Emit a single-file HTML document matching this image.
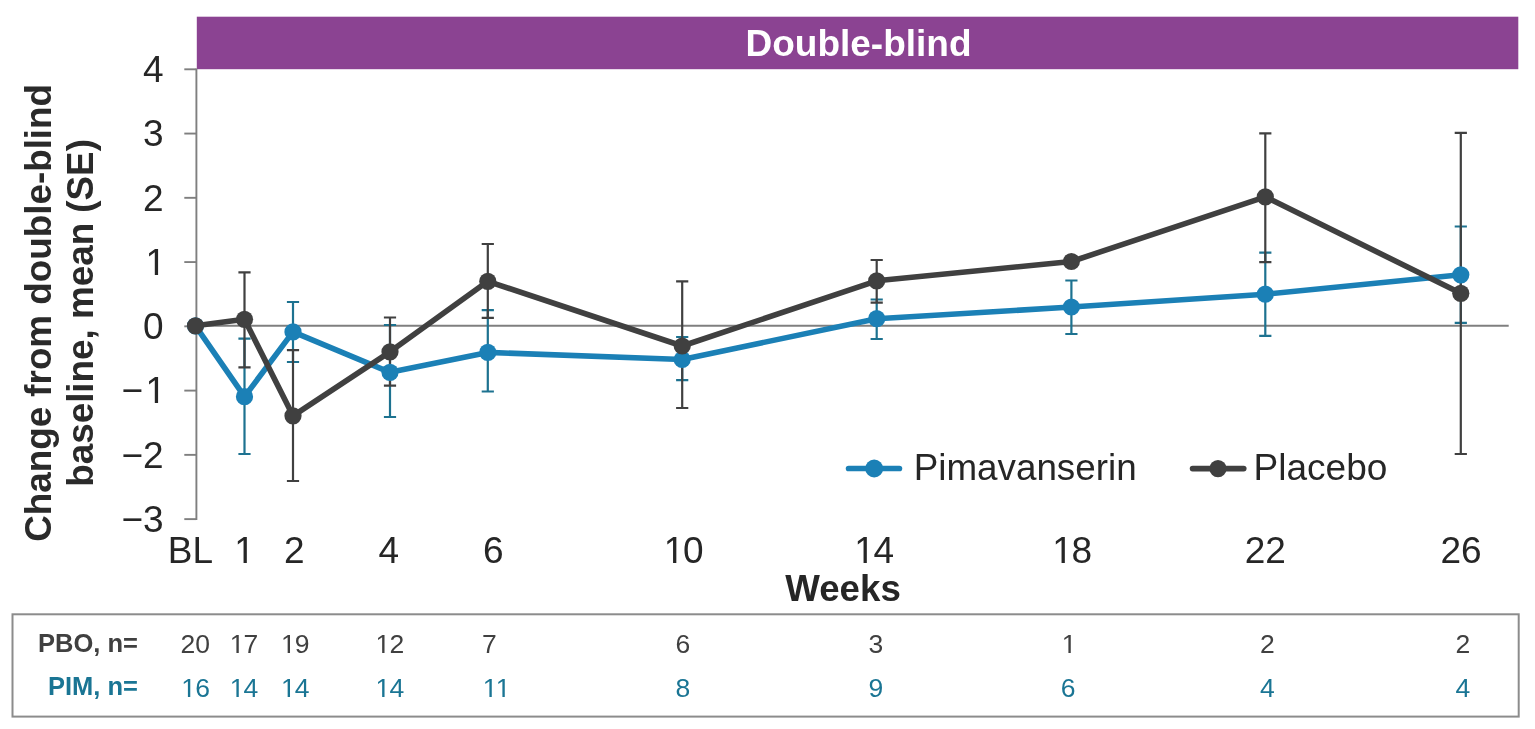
<!DOCTYPE html>
<html><head><meta charset="utf-8"><title>Double-blind chart</title>
<style>
html,body{margin:0;padding:0;background:#fff;}
body{width:1535px;height:729px;overflow:hidden;}
svg{display:block;font-family:"Liberation Sans",Arial,sans-serif;}
</style></head><body>
<svg width="1535" height="729" viewBox="0 0 1535 729">
<rect x="196.8" y="16.7" width="1321.5" height="52.5" fill="#8B4392"/>
<text x="858.5" y="56" text-anchor="middle" fill="#fff" font-weight="bold" font-size="37">Double-blind</text>
<g stroke="#7F7F7F" stroke-width="1.9" fill="none">
<path d="M196.4 68.4V520"/>
<path d="M184.3 69.30H196.4" /><path d="M184.3 133.56H196.4" /><path d="M184.3 197.82H196.4" /><path d="M184.3 262.08H196.4" /><path d="M184.3 326.34H196.4" /><path d="M184.3 390.60H196.4" /><path d="M184.3 454.86H196.4" /><path d="M184.3 519.12H196.4" />
<path d="M196.4 325.8H1508.7" stroke-width="2"/>
</g>
<g fill="#262626" font-size="37"><text x="143.00" y="82">4</text><text x="143.00" y="146">3</text><text x="143.00" y="211">2</text><text x="145.50" y="275">1</text><text x="143.00" y="339">0</text><text x="121.50 145.50" y="403">−1</text><text x="121.50 143.00" y="468">−2</text><text x="121.50 143.00" y="532">−3</text></g>
<g fill="#262626" font-size="37"><text x="190.5" y="563" text-anchor="middle">BL</text><text x="234.25" y="563">1</text><text x="284.00" y="563">2</text><text x="378.50" y="563">4</text><text x="483.00" y="563">6</text><text x="663.75 683.00" y="563">10</text><text x="854.25 873.50" y="563">14</text><text x="1052.25 1071.50" y="563">18</text><text x="1244.75 1265.25" y="563">22</text><text x="1440.50 1461.00" y="563">26</text></g>
<text x="843" y="600.8" text-anchor="middle" fill="#262626" font-size="36.7" font-weight="bold">Weeks</text>
<g fill="#2A2A2A" font-size="36.8" font-weight="bold" transform="translate(0,312.9) rotate(-90)">
<text x="0" y="51" text-anchor="middle">Change from double-blind</text>
<text x="0" y="93.2" text-anchor="middle">baseline, mean (SE)</text>
</g>
<path d="M244.5 338.6V454M238.40 338.6H250.60M238.40 454H250.60" stroke="#1D7290" stroke-width="2.2" fill="none"/>
<path d="M293 302V362M286.90 302H299.10M286.90 362H299.10" stroke="#1D7290" stroke-width="2.2" fill="none"/>
<path d="M390 325V417M383.90 325H396.10M383.90 417H396.10" stroke="#1D7290" stroke-width="2.2" fill="none"/>
<path d="M487.8 310.1V391.5M481.70 310.1H493.90M481.70 391.5H493.90" stroke="#1D7290" stroke-width="2.2" fill="none"/>
<path d="M682.2 337V380.2M676.10 337H688.30M676.10 380.2H688.30" stroke="#1D7290" stroke-width="2.2" fill="none"/>
<path d="M876.7 299.5V339M870.60 299.5H882.80M870.60 339H882.80" stroke="#1D7290" stroke-width="2.2" fill="none"/>
<path d="M1071.4 280.5V334M1065.30 280.5H1077.50M1065.30 334H1077.50" stroke="#1D7290" stroke-width="2.2" fill="none"/>
<path d="M1265.3 252.7V335.9M1259.20 252.7H1271.40M1259.20 335.9H1271.40" stroke="#1D7290" stroke-width="2.2" fill="none"/>
<path d="M1460.8 226.5V322.8M1454.70 226.5H1466.90M1454.70 322.8H1466.90" stroke="#1D7290" stroke-width="2.2" fill="none"/>
<path d="M244.5 272.3V367.3M238.40 272.3H250.60M238.40 367.3H250.60" stroke="#404040" stroke-width="2.2" fill="none"/>
<path d="M293 350.2V481M286.90 350.2H299.10M286.90 481H299.10" stroke="#404040" stroke-width="2.2" fill="none"/>
<path d="M390 317.5V385.7M383.90 317.5H396.10M383.90 385.7H396.10" stroke="#404040" stroke-width="2.2" fill="none"/>
<path d="M487.8 244V317.8M481.70 244H493.90M481.70 317.8H493.90" stroke="#404040" stroke-width="2.2" fill="none"/>
<path d="M682.2 281.3V408M676.10 281.3H688.30M676.10 408H688.30" stroke="#404040" stroke-width="2.2" fill="none"/>
<path d="M876.7 260V302.7M870.60 260H882.80M870.60 302.7H882.80" stroke="#404040" stroke-width="2.2" fill="none"/>
<path d="M1265.3 133.3V262.2M1259.20 133.3H1271.40M1259.20 262.2H1271.40" stroke="#404040" stroke-width="2.2" fill="none"/>
<path d="M1460.8 132.9V454M1454.70 132.9H1466.90M1454.70 454H1466.90" stroke="#404040" stroke-width="2.2" fill="none"/>
<polyline points="195.5,325.8 244.5,396.7 293,331.9 390,372.3 487.8,352.4 682.2,359.5 876.7,318.7 1071.4,307 1265.3,294.2 1460.8,274.8" fill="none" stroke="#1B80B6" stroke-width="5.6" stroke-linejoin="round" stroke-linecap="round"/>
<circle cx="195.5" cy="325.8" r="8.6" fill="#1B80B6"/><circle cx="244.5" cy="396.7" r="8.6" fill="#1B80B6"/><circle cx="293" cy="331.9" r="8.6" fill="#1B80B6"/><circle cx="390" cy="372.3" r="8.6" fill="#1B80B6"/><circle cx="487.8" cy="352.4" r="8.6" fill="#1B80B6"/><circle cx="682.2" cy="359.5" r="8.6" fill="#1B80B6"/><circle cx="876.7" cy="318.7" r="8.6" fill="#1B80B6"/><circle cx="1071.4" cy="307" r="8.6" fill="#1B80B6"/><circle cx="1265.3" cy="294.2" r="8.6" fill="#1B80B6"/><circle cx="1460.8" cy="274.8" r="8.6" fill="#1B80B6"/>
<polyline points="195.5,325.8 244.5,319.3 293,415.8 390,351.8 487.8,281.3 682.2,346 876.7,280.8 1071.4,261.5 1265.3,196.8 1460.8,293.3" fill="none" stroke="#404040" stroke-width="5.6" stroke-linejoin="round" stroke-linecap="round"/>
<circle cx="195.5" cy="325.8" r="8.6" fill="#404040"/><circle cx="244.5" cy="319.3" r="8.6" fill="#404040"/><circle cx="293" cy="415.8" r="8.6" fill="#404040"/><circle cx="390" cy="351.8" r="8.6" fill="#404040"/><circle cx="487.8" cy="281.3" r="8.6" fill="#404040"/><circle cx="682.2" cy="346" r="8.6" fill="#404040"/><circle cx="876.7" cy="280.8" r="8.6" fill="#404040"/><circle cx="1071.4" cy="261.5" r="8.6" fill="#404040"/><circle cx="1265.3" cy="196.8" r="8.6" fill="#404040"/><circle cx="1460.8" cy="293.3" r="8.6" fill="#404040"/>
<path d="M848.6 468.5H899.4" stroke="#1B80B6" stroke-width="5.7" stroke-linecap="round"/>
<circle cx="874.2" cy="468.5" r="9" fill="#1B80B6"/>
<text x="913.7" y="480" fill="#262626" font-size="36.8">Pimavanserin</text>
<path d="M1192.6 468.6H1243.7" stroke="#404040" stroke-width="5.7" stroke-linecap="round"/>
<circle cx="1218" cy="468.6" r="8.6" fill="#404040"/>
<text x="1253.6" y="479.5" fill="#262626" font-size="37">Placebo</text>
<rect x="12.5" y="614.3" width="1506.2" height="102.3" fill="none" stroke="#8C8C8C" stroke-width="2"/>
<text x="138" y="652" text-anchor="end" fill="#404040" font-size="25.5" font-weight="bold">PBO, n=</text>
<text x="138" y="695.1" text-anchor="end" fill="#1A7594" font-size="25.5" font-weight="bold">PIM, n=</text>
<g fill="#404040" font-size="26.5"><text x="180.50 195.25" y="653">20</text><text x="229.75 243.50" y="653">17</text><text x="281.00 294.75" y="653">19</text><text x="375.50 389.50" y="653">12</text><text x="482.00" y="653">7</text><text x="675.50" y="653">6</text><text x="868.50" y="653">3</text><text x="1061.75" y="653">1</text><text x="1260.00" y="653">2</text><text x="1455.50" y="653">2</text></g>
<g fill="#1A7594" font-size="26.5"><text x="181.25 195.25" y="697">16</text><text x="229.75 243.50" y="697">14</text><text x="281.00 294.75" y="697">14</text><text x="375.50 389.50" y="697">14</text><text x="482.75 495.75" y="697">11</text><text x="675.50" y="697">8</text><text x="868.50" y="697">9</text><text x="1060.75" y="697">6</text><text x="1260.00" y="697">4</text><text x="1455.50" y="697">4</text></g>
<g><rect x="147.01" y="271.00" width="18.55" height="5.50" fill="#fff"/><rect x="154.81" y="271.00" width="3.27" height="4.00" fill="#262626"/><rect x="147.01" y="399.00" width="18.55" height="5.50" fill="#fff"/><rect x="154.81" y="399.00" width="3.27" height="4.00" fill="#262626"/><rect x="235.76" y="559.00" width="18.55" height="5.50" fill="#fff"/><rect x="243.56" y="559.00" width="3.27" height="4.00" fill="#262626"/><rect x="665.26" y="559.00" width="18.55" height="5.50" fill="#fff"/><rect x="673.06" y="559.00" width="3.27" height="4.00" fill="#262626"/><rect x="855.76" y="559.00" width="18.55" height="5.50" fill="#fff"/><rect x="863.56" y="559.00" width="3.27" height="4.00" fill="#262626"/><rect x="1053.76" y="559.00" width="18.55" height="5.50" fill="#fff"/><rect x="1061.56" y="559.00" width="3.27" height="4.00" fill="#262626"/><rect x="230.46" y="650.00" width="14.02" height="4.50" fill="#fff"/><rect x="236.41" y="650.00" width="2.35" height="3.00" fill="#404040"/><rect x="281.71" y="650.00" width="14.02" height="4.50" fill="#fff"/><rect x="287.66" y="650.00" width="2.35" height="3.00" fill="#404040"/><rect x="376.21" y="650.00" width="14.02" height="4.50" fill="#fff"/><rect x="382.16" y="650.00" width="2.35" height="3.00" fill="#404040"/><rect x="1062.46" y="650.00" width="14.02" height="4.50" fill="#fff"/><rect x="1068.41" y="650.00" width="2.35" height="3.00" fill="#404040"/><rect x="181.96" y="694.00" width="14.02" height="4.50" fill="#fff"/><rect x="187.91" y="694.00" width="2.35" height="3.00" fill="#1A7594"/><rect x="230.46" y="694.00" width="14.02" height="4.50" fill="#fff"/><rect x="236.41" y="694.00" width="2.35" height="3.00" fill="#1A7594"/><rect x="281.71" y="694.00" width="14.02" height="4.50" fill="#fff"/><rect x="287.66" y="694.00" width="2.35" height="3.00" fill="#1A7594"/><rect x="376.21" y="694.00" width="14.02" height="4.50" fill="#fff"/><rect x="382.16" y="694.00" width="2.35" height="3.00" fill="#1A7594"/><rect x="483.46" y="694.00" width="14.02" height="4.50" fill="#fff"/><rect x="489.41" y="694.00" width="2.35" height="3.00" fill="#1A7594"/><rect x="496.46" y="694.00" width="14.02" height="4.50" fill="#fff"/><rect x="502.41" y="694.00" width="2.35" height="3.00" fill="#1A7594"/></g>
</svg>
</body></html>
